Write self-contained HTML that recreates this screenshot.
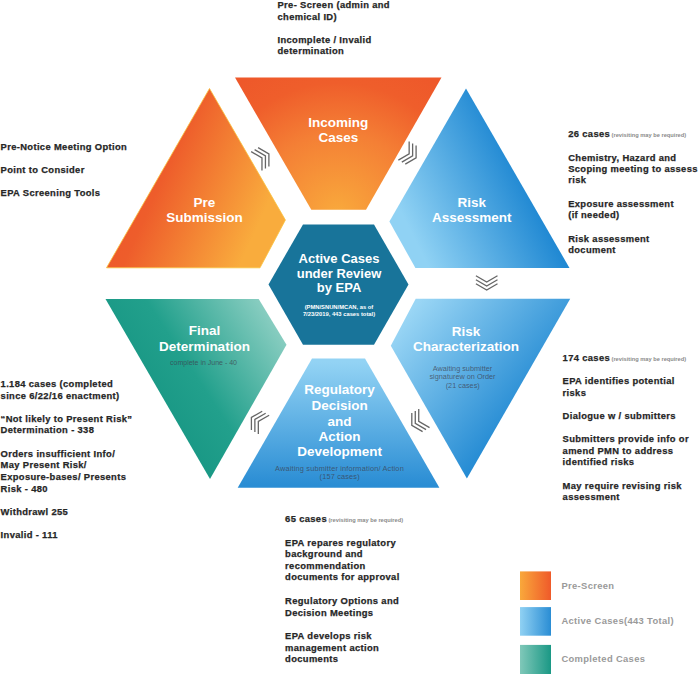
<!DOCTYPE html>
<html><head><meta charset="utf-8">
<style>
html,body{margin:0;padding:0;background:#fff;width:700px;height:674px;overflow:hidden}
svg{display:block;font-family:"Liberation Sans",sans-serif}
.b{font-weight:bold;font-size:9.4px;fill:#262626;letter-spacing:0.35px;stroke:#262626;stroke-width:0.25px}
.s{font-size:5.7px;fill:#8a8a8a;font-weight:bold;letter-spacing:0;stroke:none}
.lb{font-weight:bold;font-size:13.5px;fill:#fff;text-anchor:middle}
.sub{font-size:7px;fill:#3c3c4a;fill-opacity:0.72;text-anchor:middle}
.lg{font-weight:bold;font-size:9.4px;fill:#9a9a9a;letter-spacing:0.35px}

</style></head>
<body>
<svg width="700" height="674" viewBox="0 0 700 674">
<defs>
<linearGradient id="gPre" gradientUnits="userSpaceOnUse" x1="150" y1="150" x2="268" y2="204">
<stop offset="0" stop-color="#EE592A"/><stop offset="0.18" stop-color="#EE5D2B"/><stop offset="1" stop-color="#F9AC3D"/></linearGradient>
<radialGradient id="gInc" gradientUnits="userSpaceOnUse" cx="338" cy="215" r="165">
<stop offset="0" stop-color="#F9AA3C"/><stop offset="0.5" stop-color="#F47F35"/><stop offset="0.8" stop-color="#EF5E2B"/><stop offset="1" stop-color="#EE582A"/></radialGradient>
<linearGradient id="gRA" gradientUnits="userSpaceOnUse" x1="530" y1="195" x2="420" y2="250">
<stop offset="0" stop-color="#2189D3"/><stop offset="1" stop-color="#90D2F4"/></linearGradient>
<linearGradient id="gRC" gradientUnits="userSpaceOnUse" x1="415" y1="305" x2="535" y2="405">
<stop offset="0" stop-color="#9AD6F5"/><stop offset="1" stop-color="#2088D2"/></linearGradient>
<linearGradient id="gRD" gradientUnits="userSpaceOnUse" x1="338" y1="362" x2="338" y2="485">
<stop offset="0" stop-color="#93D3F4"/><stop offset="1" stop-color="#2A8DD4"/></linearGradient>
<linearGradient id="gFD" gradientUnits="userSpaceOnUse" x1="140" y1="390" x2="270" y2="305">
<stop offset="0" stop-color="#189784"/><stop offset="0.35" stop-color="#22A08C"/><stop offset="1" stop-color="#8FD0C4"/></linearGradient>
<linearGradient id="lg1" x1="0" y1="0" x2="1" y2="0"><stop offset="0" stop-color="#F9A83B"/><stop offset="1" stop-color="#EF5A2A"/></linearGradient>
<linearGradient id="lg2" x1="0" y1="0" x2="1" y2="0"><stop offset="0" stop-color="#90D1F3"/><stop offset="1" stop-color="#2A8DD4"/></linearGradient>
<linearGradient id="lg3" x1="0" y1="0" x2="1" y2="0"><stop offset="0" stop-color="#80C8B9"/><stop offset="1" stop-color="#1A9885"/></linearGradient>
<g id="chev" fill="none" stroke="#666" stroke-width="1.3"><path d="M-6.25,-10.8 L0,0 L-6.25,10.8"/><path d="M-10.25,-10.8 L-4,0 L-10.25,10.8"/><path d="M-14.25,-10.8 L-8,0 L-14.25,10.8"/></g>
</defs>

<!-- triangles -->
<polygon points="209.5,88.5 285.4,220 260,267.8 106.5,267.8" fill="url(#gPre)" stroke="#F9C23C" stroke-width="0.8"/>
<polygon points="235,77.5 441.5,77.5 366,209.7 311.3,209.7" fill="url(#gInc)"/>
<polygon points="466,88.5 569.5,268 415.4,268 389.4,221.4" fill="url(#gRA)"/>
<polygon points="105.5,299 258.7,299 286.5,344.7 210,479" fill="url(#gFD)"/>
<polygon points="415.7,298.7 570.2,298.7 466.9,478.6 390.8,345.8" fill="url(#gRC)"/>
<polygon points="312,358.6 365,358.6 439.4,487.7 237.7,487.7" fill="url(#gRD)"/>
<polygon points="303,224.4 374,224.4 408.5,284.5 374,344.7 303,344.7 268.5,284.5" fill="#18749A"/>

<!-- chevrons -->
<g class="ch">
<use href="#chev" transform="translate(268.9,153.9) rotate(-30)"/>
<use href="#chev" transform="translate(416.1,157.9) rotate(30)"/>
<use href="#chev" transform="translate(486.7,290) rotate(90)"/>
<use href="#chev" transform="translate(411.8,425.4) rotate(150)"/>
<use href="#chev" transform="translate(251.4,417.5) rotate(210)"/>
</g>

<!-- labels -->
<text class="lb" x="204.5" y="207">Pre</text>
<text class="lb" x="204.5" y="222.4">Submission</text>
<text class="lb" x="338.3" y="126.8">Incoming</text>
<text class="lb" x="338.3" y="141.6">Cases</text>
<text class="lb" x="471.7" y="207">Risk</text>
<text class="lb" x="471.7" y="222.4">Assessment</text>
<text class="lb" x="204.5" y="335.3">Final</text>
<text class="lb" x="204.5" y="350.7">Determination</text>
<text class="sub" x="203.5" y="365">complete in June - 40</text>
<text class="lb" x="466" y="335.7">Risk</text>
<text class="lb" x="466" y="351.1">Characterization</text>
<text class="sub" x="462.5" y="370.9" style="font-size:7.3px">Awaiting submitter</text>
<text class="sub" x="462.5" y="379.3" style="font-size:7.3px">signaturew on Order</text>
<text class="sub" x="462.7" y="388.2" style="font-size:7.3px">(21 cases)</text>
<text class="lb" x="339.6" y="394">Regulatory</text>
<text class="lb" x="339.6" y="410">Decision</text>
<text class="lb" x="339.6" y="425.5">and</text>
<text class="lb" x="339.6" y="440.9">Action</text>
<text class="lb" x="339.6" y="456.4">Development</text>
<text class="sub" x="339.5" y="471" style="font-size:7.4px;letter-spacing:0.15px">Awaiting submitter information/ Action</text>
<text class="sub" x="339.7" y="479.4" style="font-size:7.4px;letter-spacing:0.15px">(157 cases)</text>
<text class="lb" x="339" y="263.2" style="font-size:13px">Active Cases</text>
<text class="lb" x="339" y="277.7" style="font-size:13px">under Review</text>
<text class="lb" x="339" y="292.3" style="font-size:13px">by EPA</text>
<text class="lb" x="339" y="308.6" style="font-size:5.8px">(PMN/SNUN/MCAN, as of</text>
<text class="lb" x="339" y="315.5" style="font-size:5.8px">7/23/2019, 443 cases total)</text>

<!-- body text blocks -->
<g class="b">
<text x="277.5" y="8.1">Pre- Screen (admin and</text>
<text x="277.5" y="19.7">chemical ID)</text>
<text x="277.5" y="42.8">Incomplete / Invalid</text>
<text x="277.5" y="53.5">determination</text>

<text x="0.6" y="150.3">Pre-Notice Meeting Option</text>
<text x="0.6" y="172.8">Point to Consider</text>
<text x="0.6" y="196.4">EPA Screening Tools</text>

<text x="568.2" y="136.7">26 cases <tspan class="s" dx="-1.5">(revisiting may be required)</tspan></text>
<text x="568.2" y="160.7">Chemistry, Hazard and</text>
<text x="568.2" y="172">Scoping meeting to assess</text>
<text x="568.2" y="183.2">risk</text>
<text x="568.2" y="206.7">Exposure assessment</text>
<text x="568.2" y="218">(if needed)</text>
<text x="568.2" y="241.6">Risk assessment</text>
<text x="568.2" y="253">document</text>

<text x="562.6" y="360.7">174 cases <tspan class="s" dx="-1.5">(revisiting may be required)</tspan></text>
<text x="562.6" y="384.1">EPA identifies potential</text>
<text x="562.6" y="395.5">risks</text>
<text x="562.6" y="418.7">Dialogue w / submitters</text>
<text x="562.6" y="442.1">Submitters provide info or</text>
<text x="562.6" y="453.5">amend PMN to address</text>
<text x="562.6" y="465">identified risks</text>
<text x="562.6" y="488.8">May require revising risk</text>
<text x="562.6" y="500">assessment</text>

<text x="0.6" y="386.9">1.184 cases  (completed</text>
<text x="0.6" y="398.5">since 6/22/16 enactment)</text>
<text x="0.6" y="422.2">“Not likely to Present Risk”</text>
<text x="0.6" y="432.9">Determination - 338</text>
<text x="0.6" y="456.6">Orders insufficient Info/</text>
<text x="0.6" y="468.2">May Present Risk/</text>
<text x="0.6" y="480.4">Exposure-bases/ Presents</text>
<text x="0.6" y="491.8">Risk - 480</text>
<text x="0.6" y="515">Withdrawl 255</text>
<text x="0.6" y="538.2">Invalid - 111</text>

<text x="285.1" y="522.3">65 cases <tspan class="s" dx="-1.5">(revisiting may be required)</tspan></text>
<text x="285.1" y="545.7">EPA repares regulatory</text>
<text x="285.1" y="557.1">background and</text>
<text x="285.1" y="568.6">recommendation</text>
<text x="285.1" y="580">documents for approval</text>
<text x="285.1" y="604.3">Regulatory Options and</text>
<text x="285.1" y="615.7">Decision Meetings</text>
<text x="285.1" y="639.4">EPA develops risk</text>
<text x="285.1" y="650.9">management action</text>
<text x="285.1" y="662.3">documents</text>
</g>

<!-- legend -->
<rect x="520" y="571.4" width="31" height="28.6" fill="url(#lg1)"/>
<rect x="520" y="607.1" width="31" height="28.6" fill="url(#lg2)"/>
<rect x="520" y="644.9" width="31" height="29.1" fill="url(#lg3)"/>
<text class="lg" x="561.4" y="588.6">Pre-Screen</text>
<text class="lg" x="561.4" y="624.3">Active Cases(443 Total)</text>
<text class="lg" x="561.4" y="662">Completed Cases</text>
</svg>
</body></html>
